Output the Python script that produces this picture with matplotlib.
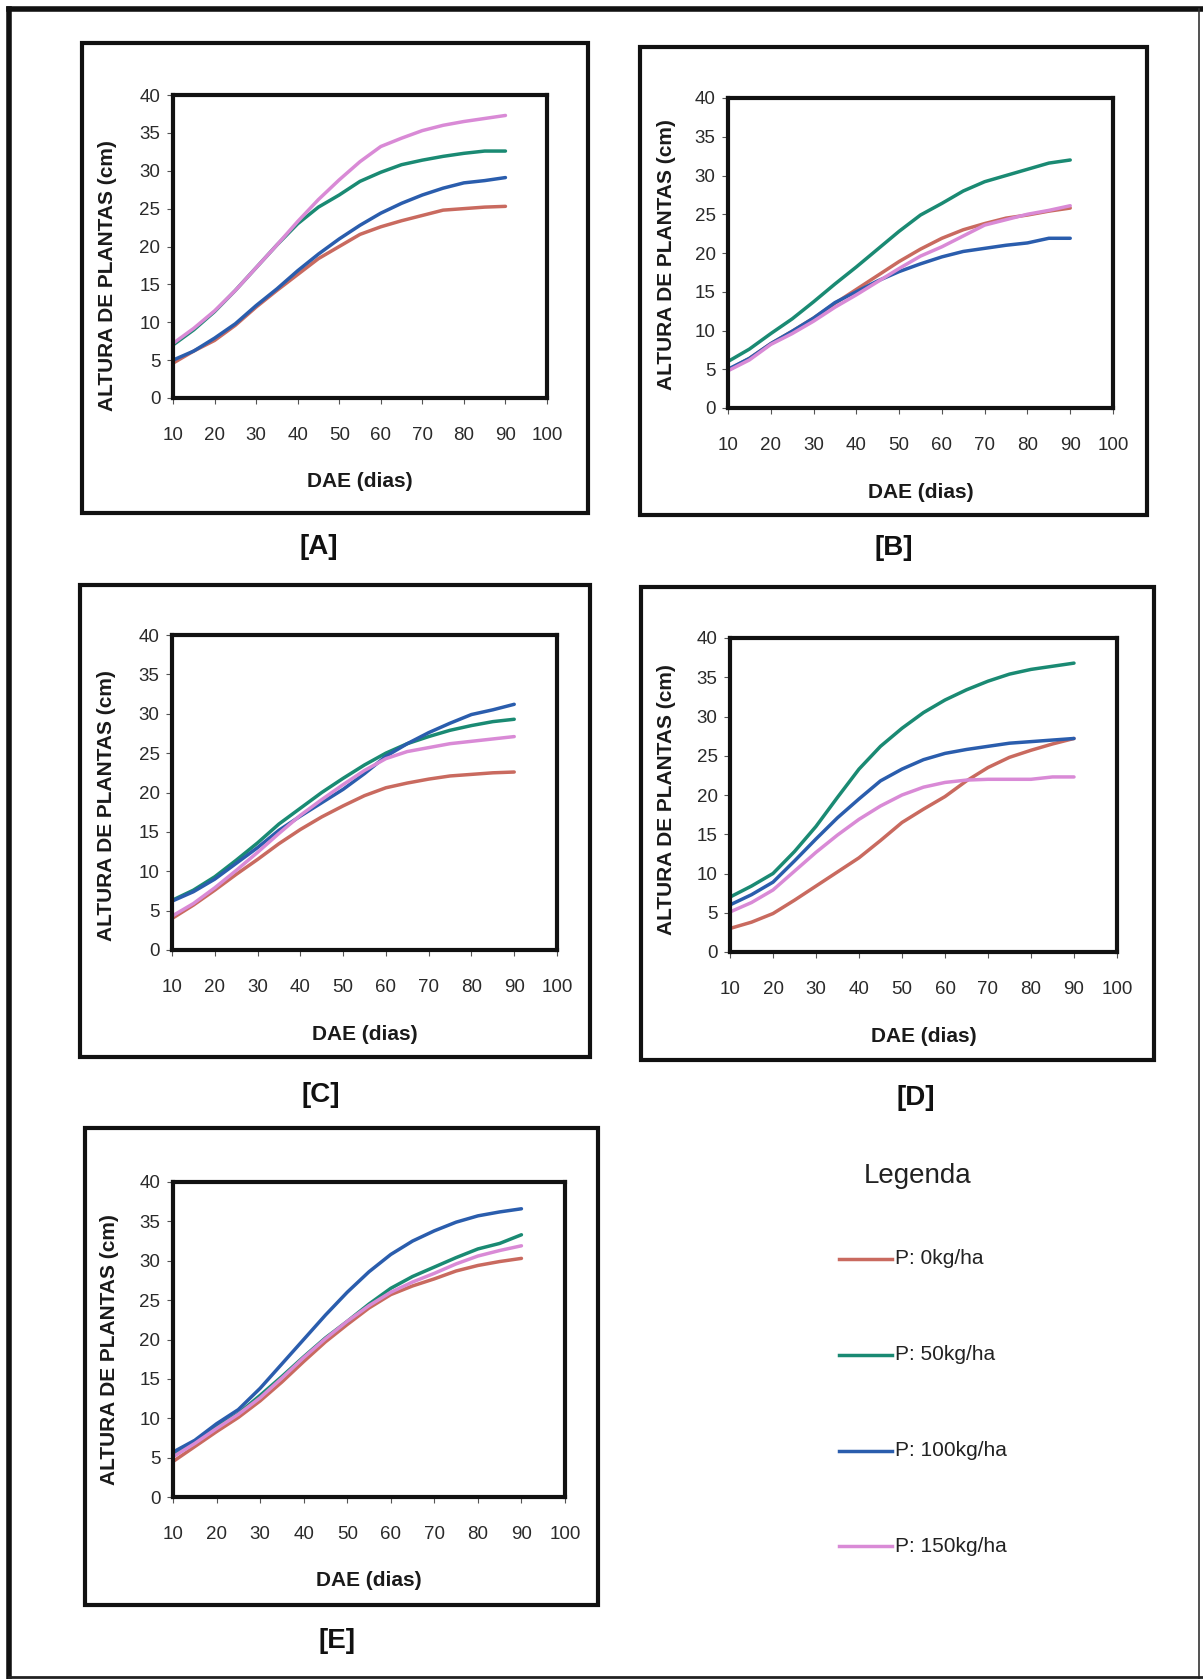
import matplotlib
matplotlib.use('Agg')
import matplotlib.pyplot as plt
from matplotlib.lines import Line2D
from matplotlib.patches import Rectangle

W, H = 1203, 1679
plt.rcParams['font.family'] = ['Liberation Sans', 'DejaVu Sans']

# dias apos emergencia
dae = [10, 15, 20, 25, 30, 35, 40, 45, 50, 55, 60, 65, 70, 75, 80, 85, 90]

doses = ['P: 0kg/ha', 'P: 50kg/ha', 'P: 100kg/ha', 'P: 150kg/ha']
cores = ['#c96a5f', '#1a8a73', '#2a5dad', '#d98ad6']

# altura de plantas (cm) por dose: 0, 50, 100, 150 kg/ha
A_p0 = [4.6, 6.2, 7.6, 9.6, 12.0, 14.2, 16.3, 18.4, 20.0, 21.6, 22.6, 23.4, 24.1, 24.8, 25.0, 25.2, 25.3]
A_p50 = [7.0, 9.0, 11.4, 14.2, 17.2, 20.2, 23.0, 25.2, 26.8, 28.6, 29.8, 30.8, 31.4, 31.9, 32.3, 32.6, 32.6]
A_p100 = [5.0, 6.2, 7.9, 9.8, 12.2, 14.4, 16.8, 19.0, 21.0, 22.8, 24.4, 25.7, 26.8, 27.7, 28.4, 28.7, 29.1]
A_p150 = [7.2, 9.2, 11.5, 14.2, 17.2, 20.2, 23.3, 26.2, 28.8, 31.2, 33.2, 34.3, 35.3, 36.0, 36.5, 36.9, 37.3]

B_p0 = [4.9, 6.4, 8.3, 9.9, 11.6, 13.5, 15.3, 17.1, 18.9, 20.5, 21.9, 23.0, 23.8, 24.5, 24.9, 25.4, 25.8]
B_p50 = [6.0, 7.6, 9.6, 11.5, 13.7, 16.0, 18.2, 20.5, 22.8, 24.9, 26.4, 28.0, 29.2, 30.0, 30.8, 31.6, 32.0]
B_p100 = [5.0, 6.4, 8.3, 9.9, 11.6, 13.6, 15.0, 16.4, 17.6, 18.6, 19.5, 20.2, 20.6, 21.0, 21.3, 21.9, 21.9]
B_p150 = [4.8, 6.2, 8.2, 9.6, 11.2, 13.0, 14.6, 16.3, 18.0, 19.6, 20.8, 22.2, 23.6, 24.3, 25.0, 25.5, 26.1]

C_p0 = [4.0, 5.7, 7.6, 9.6, 11.5, 13.5, 15.3, 16.9, 18.3, 19.6, 20.6, 21.2, 21.7, 22.1, 22.3, 22.5, 22.6]
C_p50 = [6.3, 7.6, 9.3, 11.4, 13.6, 16.0, 18.0, 20.0, 21.8, 23.5, 25.0, 26.2, 27.1, 27.9, 28.5, 29.0, 29.3]
C_p100 = [6.2, 7.4, 9.0, 11.0, 13.0, 15.2, 17.0, 18.7, 20.4, 22.4, 24.6, 26.2, 27.6, 28.8, 29.9, 30.5, 31.2]
C_p150 = [4.3, 5.9, 7.9, 10.1, 12.4, 14.8, 17.1, 19.1, 21.0, 22.8, 24.3, 25.2, 25.7, 26.2, 26.5, 26.8, 27.1]

D_p0 = [3.0, 3.8, 4.9, 6.6, 8.4, 10.2, 12.0, 14.2, 16.5, 18.2, 19.8, 21.8, 23.5, 24.8, 25.7, 26.5, 27.2]
D_p50 = [7.0, 8.4, 10.0, 12.8, 16.0, 19.7, 23.3, 26.2, 28.5, 30.5, 32.1, 33.4, 34.5, 35.4, 36.0, 36.4, 36.8]
D_p100 = [6.0, 7.3, 8.9, 11.6, 14.4, 17.1, 19.5, 21.8, 23.3, 24.5, 25.3, 25.8, 26.2, 26.6, 26.8, 27.0, 27.2]
D_p150 = [5.1, 6.3, 7.9, 10.3, 12.7, 14.9, 16.9, 18.6, 20.0, 21.0, 21.6, 21.9, 22.0, 22.0, 22.0, 22.3, 22.3]

E_p0 = [4.5, 6.4, 8.3, 10.1, 12.2, 14.6, 17.2, 19.7, 21.9, 24.0, 25.7, 26.8, 27.7, 28.7, 29.4, 29.9, 30.3]
E_p50 = [5.4, 6.9, 8.9, 10.6, 12.9, 15.3, 17.8, 20.2, 22.3, 24.5, 26.5, 28.0, 29.2, 30.4, 31.5, 32.2, 33.3]
E_p100 = [5.7, 7.2, 9.3, 11.1, 13.8, 16.9, 20.0, 23.1, 26.0, 28.6, 30.8, 32.5, 33.8, 34.9, 35.7, 36.2, 36.6]
E_p150 = [5.1, 6.8, 8.7, 10.5, 12.6, 15.1, 17.7, 20.1, 22.3, 24.3, 26.0, 27.3, 28.4, 29.6, 30.6, 31.3, 31.9]

x_ticks = [10, 20, 30, 40, 50, 60, 70, 80, 90, 100]
y_ticks = [0, 5, 10, 15, 20, 25, 30, 35, 40]


def fx(x):
    return x / W


def fy(y):
    return 1 - y / H


def caixa(fig, x0, y0, x1, y1, lw=3.0):
    fig.add_artist(Rectangle((fx(x0), fy(y1)), fx(x1 - x0), (y1 - y0) / H,
                             transform=fig.transFigure, fill=False,
                             edgecolor='#111111', linewidth=lw))


fig = plt.figure(figsize=(W / 100, H / 100), dpi=100)

# (nome, series, eixo px, moldura px, rotulo y px, nome px)
paineis = [
    ('[A]', [A_p0, A_p50, A_p100, A_p150], (173, 95, 547, 398), (82, 43, 588, 513), (108, 276), (319, 547)),
    ('[B]', [B_p0, B_p50, B_p100, B_p150], (728, 98, 1113, 408), (640, 47, 1147, 515), (667, 255), (894, 548)),
    ('[C]', [C_p0, C_p50, C_p100, C_p150], (172, 635, 557, 950), (80, 585, 590, 1057), (107, 806), (321, 1095)),
    ('[D]', [D_p0, D_p50, D_p100, D_p150], (730, 638, 1117, 952), (641, 587, 1154, 1060), (666, 800), (916, 1098)),
    ('[E]', [E_p0, E_p50, E_p100, E_p150], (173, 1182, 565, 1497), (85, 1128, 598, 1605), (110, 1350), (337, 1641)),
]

for nome, series, (x0, y0, x1, y1), moldura, ylab, tag in paineis:
    caixa(fig, *moldura)
    ax = fig.add_axes([fx(x0), fy(y1), fx(x1 - x0), (y1 - y0) / H])
    for serie, cor in zip(series, cores):
        ax.plot(dae, serie, color=cor, linewidth=2.5, solid_capstyle='round')
    ax.set_xlim(10, 100)
    ax.set_ylim(0, 40)
    ax.set_xticks(x_ticks)
    ax.set_yticks(y_ticks)
    ax.tick_params(axis='both', direction='out', length=4, width=0.8,
                   color='#555555', labelsize=13.5, labelcolor='#2a2a2a')
    ax.tick_params(axis='x', pad=17)
    ax.tick_params(axis='y', pad=5)
    for sp in ax.spines.values():
        sp.set_linewidth(3.0)
        sp.set_color('#111111')
    fig.text(fx((x0 + x1) / 2), fy(y1 + 84), 'DAE (dias)', ha='center', va='center',
             fontsize=15, fontweight='bold', color='#1a1a1a')
    fig.text(fx(ylab[0]), fy(ylab[1]), 'ALTURA DE PLANTAS (cm)', rotation=90,
             ha='center', va='center', fontsize=15, fontweight='bold', color='#1a1a1a')
    fig.text(fx(tag[0]), fy(tag[1]), nome, ha='center', va='center',
             fontsize=20, fontweight='bold', color='#111111')

# legenda
fig.text(fx(918), fy(1176), 'Legenda', ha='center', va='center', fontsize=20, color='#222222')
for dose, cor, yl in zip(doses, cores, [1259, 1355, 1451, 1546]):
    fig.add_artist(Line2D([fx(839), fx(892)], [fy(yl), fy(yl)], transform=fig.transFigure,
                          color=cor, linewidth=2.5))
    fig.text(fx(895), fy(yl), dose, ha='left', va='center', fontsize=15, color='#222222')

# moldura da pagina
fig.add_artist(Line2D([fx(9), fx(1203)], [fy(9), fy(9)], transform=fig.transFigure,
                      color='#111111', linewidth=4))
fig.add_artist(Line2D([fx(9), fx(9)], [fy(9), fy(1679)], transform=fig.transFigure,
                      color='#111111', linewidth=4))
fig.add_artist(Line2D([fx(1199), fx(1199)], [fy(9), fy(1679)], transform=fig.transFigure,
                      color='#333333', linewidth=1.2))
fig.add_artist(Line2D([fx(9), fx(1203)], [fy(1677), fy(1677)], transform=fig.transFigure,
                      color='#222222', linewidth=2))

fig.savefig('out.png', dpi=100)
